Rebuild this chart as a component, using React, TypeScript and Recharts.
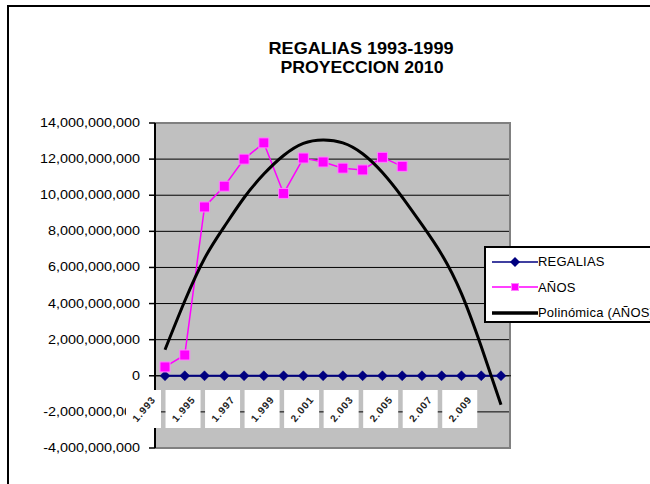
import React from 'react';
import {
  LineChart,
  Line,
  XAxis,
  YAxis,
  CartesianGrid,
  Legend,
  ReferenceLine,
} from 'recharts';

const years = [
  '1993', '1994', '1995', '1996', '1997', '1998', '1999', '2000', '2001',
  '2002', '2003', '2004', '2005', '2006', '2007', '2008', '2009', '2010',
];
const regalias = [0, 0, 0, 0, 0, 0, 0, 0, 0, 0, 0, 0, 0, 0, 0, 0, 0, 0];
const anos = [
  0.49e9, 1.15e9, 9.35e9, 10.5e9, 12.0e9, 12.9e9, 10.1e9, 12.06e9, 11.84e9,
  11.5e9, 11.4e9, 12.1e9, 11.6e9,
];
const polinomica = [
  1.44e9, 4.14e9, 6.5e9, 8.26e9, 9.86e9, 11.17e9, 12.2e9, 12.87e9, 13.06e9,
  12.9e9, 12.3e9, 11.26e9, 9.9e9, 8.37e9, 6.72e9, 4.55e9, 1.62e9, -1.6e9,
];
const yTicks = [-4e9, -2e9, 0, 2e9, 4e9, 6e9, 8e9, 10e9, 12e9, 14e9];
const gridValues = [-2e9, 0, 2e9, 4e9, 6e9, 8e9, 10e9, 12e9];
const borderValues = [-4e9, 14e9];
const titleLines = ['REGALIAS 1993-1999', 'PROYECCION 2010'];
const seriesNames = ['REGALIAS', 'AÑOS', 'Polinómica (AÑOS)'];

const data = years.map((year, i) => ({
  year,
  regalias: regalias[i],
  anos: i < anos.length ? anos[i] : null,
  poli: polinomica[i],
}));

const FONT = '"Liberation Sans", Arial, Helvetica, sans-serif';
const NAVY = '#000080';
const MAGENTA = '#FF00FF';

const Diamond = (props: any) => {
  const { cx, cy } = props;
  if (cx == null || cy == null) return null;
  const r = 5;
  return (
    <polygon
      points={`${cx - r},${cy} ${cx},${cy - r} ${cx + r},${cy} ${cx},${cy + r}`}
      fill={NAVY}
      stroke={NAVY}
      strokeWidth={0.5}
    />
  );
};

const Square = (props: any) => {
  const { cx, cy } = props;
  if (cx == null || cy == null) return null;
  const h = 5;
  return (
    <rect
      x={cx - h}
      y={cy - h}
      width={h * 2}
      height={h * 2}
      fill={MAGENTA}
      stroke="#FF7FFF"
      strokeWidth={1}
    />
  );
};

const YTick = (props: any) => {
  const { x, y, payload } = props;
  return (
    <text
      transform={`translate(${x - 7},${y}) scale(1.2,1)`}
      textAnchor="end"
      dy={4}
      fontSize={12}
      fontFamily={FONT}
      fill="#000"
    >
      {Number(payload.value).toLocaleString('en-US')}
    </text>
  );
};

const XTick = (props: any) => {
  const { x, y, payload } = props;
  const v = String(payload.value);
  const label = v.slice(0, 1) + '.' + v.slice(1);
  return (
    <g>
      <rect x={x - 39} y={y - 58} width={35} height={38} fill="#ffffff" />
      <text
        transform={`translate(${x - 21},${y - 39}) rotate(-50)`}
        textAnchor="middle"
        dominantBaseline="central"
        fontSize={10}
        letterSpacing={1}
        fontWeight="bold"
        fontFamily={FONT}
        fill="#222"
      >
        {label}
      </text>
    </g>
  );
};

const LegendBox = () => {
  const rows = [
    { name: seriesNames[0], kind: 'diamond' },
    { name: seriesNames[1], kind: 'square' },
    { name: seriesNames[2], kind: 'thick' },
  ];
  return (
    <div
      style={{
        width: 220,
        minWidth: 220,
        height: 77,
        boxSizing: 'border-box',
        border: '2px solid #000',
        background: '#fff',
        fontFamily: FONT,
        fontSize: 13,
        letterSpacing: 0.2,
        color: '#000',
        paddingTop: 1,
      }}
    >
      {rows.map((r) => (
        <div
          key={r.name}
          style={{ height: 25.5, display: 'flex', alignItems: 'center', whiteSpace: 'nowrap' }}
        >
          <svg width={52} height={14} style={{ display: 'block', flexShrink: 0 }}>
            {r.kind === 'diamond' && (
              <g>
                <line x1={6} y1={7} x2={52} y2={7} stroke={NAVY} strokeWidth={1.5} />
                <polygon points="24,7 29,2 34,7 29,12" fill={NAVY} />
              </g>
            )}
            {r.kind === 'square' && (
              <g>
                <line x1={6} y1={7} x2={52} y2={7} stroke={MAGENTA} strokeWidth={1.5} />
                <rect x={25.5} y={3.5} width={7} height={7} fill={MAGENTA} stroke="#FF7FFF" strokeWidth={1} />
              </g>
            )}
            {r.kind === 'thick' && (
              <line x1={6} y1={7} x2={52} y2={7} stroke="#000" strokeWidth={3.5} />
            )}
          </svg>
          <span>{r.name}</span>
        </div>
      ))}
    </div>
  );
};

export default function App() {
  return (
    <div
      style={{
        position: 'absolute',
        left: 0,
        top: 0,
        width: 650,
        height: 484,
        overflow: 'hidden',
        background: '#fff',
      }}
    >
      <div
        style={{
          position: 'absolute',
          left: 7,
          top: 5,
          width: 800,
          height: 700,
          border: '2px solid #000',
        }}
      />
      <div style={{ position: 'absolute', left: 0, top: 0 }}>
        <LineChart
          width={650}
          height={484}
          data={data}
          margin={{ top: 123, right: 139, bottom: 35, left: 0 }}
        >
          <CartesianGrid
            vertical={false}
            horizontalValues={gridValues}
            stroke="#000"
            strokeWidth={1}
            fill="#C0C0C0"
            fillOpacity={1}
          />
          <CartesianGrid
            horizontalValues={borderValues}
            verticalCoordinatesGenerator={(p: any) => [p.offset.left + p.offset.width - 1]}
            stroke="#808080"
            strokeWidth={2}
          />
          <ReferenceLine y={0} stroke="#000" strokeWidth={1} />
          <YAxis
            type="number"
            domain={[-4e9, 14e9]}
            ticks={yTicks}
            interval={0}
            width={155}
            axisLine={{ stroke: '#000', strokeWidth: 2 }}
            tickLine={{ stroke: '#000', strokeWidth: 1.5 }}
            tickSize={6}
            tick={<YTick />}
          />
          <XAxis
            dataKey="year"
            height={1}
            axisLine={false}
            tickLine={false}
            tickSize={0}
            tickMargin={0}
            interval={1}
            padding={{ left: 10, right: 10 }}
            tick={<XTick />}
          />
          <Legend
            layout="vertical"
            align="center"
            verticalAlign="middle"
            wrapperStyle={{ left: 484, top: 246, width: 220 }}
            content={<LegendBox />}
          />
          <Line
            dataKey="regalias"
            name={seriesNames[0]}
            stroke={NAVY}
            strokeWidth={2}
            dot={<Diamond />}
            isAnimationActive={false}
          />
          <Line
            dataKey="anos"
            name={seriesNames[1]}
            stroke={MAGENTA}
            strokeWidth={1.5}
            dot={<Square />}
            connectNulls={false}
            isAnimationActive={false}
          />
          <Line
            dataKey="poli"
            name={seriesNames[2]}
            type="natural"
            stroke="#000"
            strokeWidth={3}
            dot={false}
            isAnimationActive={false}
          />
        </LineChart>
      </div>
      <svg
        width={650}
        height={484}
        style={{ position: 'absolute', left: 0, top: 0, pointerEvents: 'none' }}
      >
        <text
          x={361}
          y={54}
          textAnchor="middle"
          fontFamily={FONT}
          fontWeight="bold"
          fontSize={16.5}
          textLength={185}
          lengthAdjust="spacingAndGlyphs"
          fill="#000"
        >
          {titleLines[0]}
        </text>
        <text
          x={362}
          y={73}
          textAnchor="middle"
          fontFamily={FONT}
          fontWeight="bold"
          fontSize={16.5}
          textLength={163}
          lengthAdjust="spacingAndGlyphs"
          fill="#000"
        >
          {titleLines[1]}
        </text>
      </svg>
    </div>
  );
}
